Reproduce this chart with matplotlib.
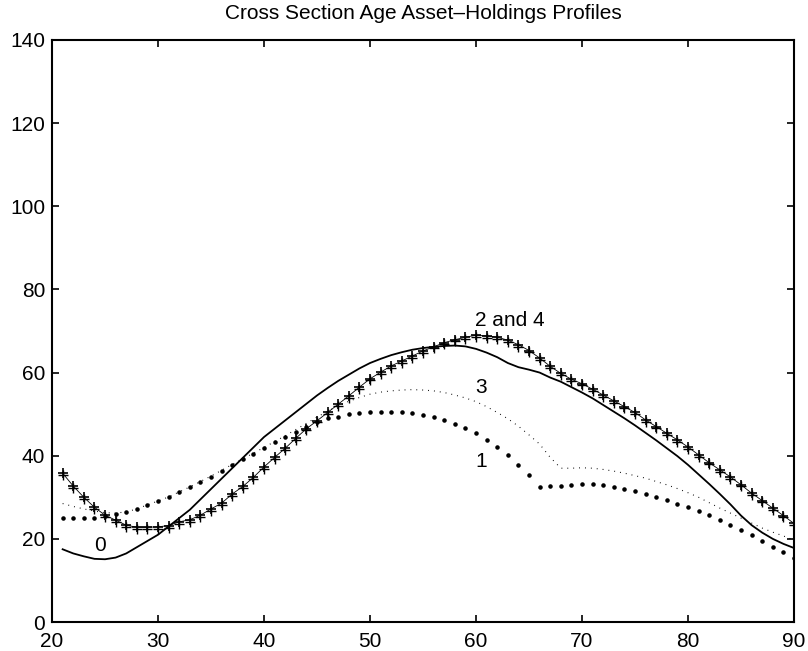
import matplotlib
matplotlib.use('Agg')
import matplotlib.pyplot as plt
import numpy as np

plt.rcParams['font.family'] = ['Liberation Sans', 'DejaVu Sans']

# ages 21..90
age = list(range(21, 91))

# profile 0 (solid line)
p0 = [17.5, 16.5, 15.8, 15.2, 15.1, 15.5, 16.5, 18.0, 19.5, 21.0,
      23.0, 25.0, 27.0, 29.5, 32.0, 34.5, 37.0, 39.5, 42.0, 44.5,
      46.5, 48.5, 50.5, 52.5, 54.5, 56.3, 58.0, 59.5, 61.0, 62.3,
      63.3, 64.2, 64.9, 65.5, 65.9, 66.2, 66.4, 66.5, 66.3, 65.7,
      64.8, 63.7, 62.3, 61.3, 60.7, 60.0, 58.8, 57.8, 56.5, 55.2,
      53.8, 52.2, 50.6, 49.0, 47.3, 45.5, 43.7, 41.8, 39.9, 37.8,
      35.5, 33.2, 30.8, 28.3, 25.6, 23.3, 21.5, 20.0, 18.8, 17.8]

# profile 1 (large dots)
p1 = [25.0, 25.0, 25.0, 25.0, 25.4, 25.9, 26.5, 27.2, 28.2, 29.1,
      30.1, 31.3, 32.5, 33.7, 35.0, 36.4, 37.8, 39.2, 40.5, 41.8,
      43.2, 44.5, 45.8, 47.0, 48.2, 49.0, 49.4, 50.0, 50.2, 50.5,
      50.6, 50.6, 50.5, 50.2, 49.8, 49.3, 48.6, 47.6, 46.6, 45.4,
      43.8, 42.2, 40.2, 37.8, 35.3, 32.4, 32.6, 32.8, 33.0, 33.1,
      33.1, 32.9, 32.5, 32.1, 31.4, 30.8, 30.1, 29.3, 28.5, 27.7,
      26.6, 25.7, 24.5, 23.3, 22.1, 20.9, 19.4, 18.1, 16.9, 15.4]

# profile 2 (+ markers)
p2 = [35.8, 32.7, 30.0, 27.6, 25.7, 24.5, 23.3, 22.8, 22.8, 22.9,
      23.2, 24.1, 24.6, 25.7, 27.2, 28.6, 30.8, 32.6, 34.8, 37.3,
      39.6, 41.8, 44.2, 46.5, 48.4, 50.4, 52.4, 54.4, 56.5, 58.5,
      60.1, 61.6, 62.8, 64.0, 65.2, 66.2, 67.2, 67.9, 68.5, 69.0,
      68.8, 68.5, 67.8, 66.7, 65.3, 63.5, 61.5, 59.8, 58.4, 57.3,
      56.0, 54.6, 53.2, 51.8, 50.4, 48.6, 47.0, 45.4, 43.8, 42.1,
      40.2, 38.3, 36.6, 34.9, 33.0, 31.0, 29.2, 27.4, 25.6, 23.7]

# profile 4 (almost on top of profile 2)
p4 = [35.4, 32.3, 29.6, 27.1, 25.2, 24.0, 22.8, 22.3, 22.3, 22.4,
      22.7, 23.6, 24.1, 25.2, 26.8, 28.2, 30.4, 32.2, 34.4, 36.9,
      39.2, 41.4, 43.8, 46.1, 48.0, 50.0, 52.0, 54.0, 56.1, 58.1,
      59.7, 61.2, 62.4, 63.6, 64.8, 65.8, 66.8, 67.5, 68.1, 68.5,
      68.3, 68.0, 67.3, 66.2, 64.9, 63.1, 61.1, 59.4, 58.0, 56.9,
      55.6, 54.2, 52.8, 51.4, 50.0, 48.2, 46.6, 45.0, 43.4, 41.7,
      39.8, 37.9, 36.2, 34.5, 32.6, 30.6, 28.8, 27.0, 25.2, 23.3]

# profile 3 (fine dotted line)
p3 = [28.5, 27.8, 27.2, 26.7, 26.3, 26.2, 26.5, 27.2, 28.2, 29.1,
      30.1, 31.3, 32.5, 33.8, 35.1, 36.5, 37.9, 39.3, 40.6, 42.0,
      43.4, 44.8, 46.3, 47.8, 49.3, 50.7, 52.0, 53.1, 54.0, 54.8,
      55.3, 55.6, 55.8, 55.9, 55.8, 55.6, 55.2, 54.6, 53.9, 53.0,
      51.8, 50.4, 48.9, 47.1, 45.0, 42.8, 39.6, 37.0, 37.0, 37.1,
      37.0, 36.7, 36.3, 35.8, 35.2, 34.6, 33.8, 33.0, 32.1, 31.1,
      30.0, 28.7, 27.4, 26.2, 25.0, 23.8, 22.6, 21.6, 20.7, 19.7]

fig = plt.figure(figsize=(8.08, 6.51), dpi=100)
ax = fig.add_axes([0.0644, 0.0445, 0.9183, 0.8941])

ax.plot(age, p0, '-', color='k', linewidth=1.3)
ax.plot(age, p3, ':', color='k', linewidth=0.8, dashes=(0.8, 4.5))
ax.plot(age, p1, '.', color='k', markersize=4.5, linestyle='none')
ax.plot(age, p2, '-+', color='k', linewidth=0.6, markersize=7.5, markeredgewidth=1.2)
ax.plot(age, p4, '+', color='k', markersize=6.5, markeredgewidth=1.0)

# curve labels
ax.text(24.5, 18.4, '0', fontsize=15, ha='center', va='center')
ax.text(60.5, 38.6, '1', fontsize=15, ha='center', va='center')
ax.text(60.5, 56.5, '3', fontsize=15, ha='center', va='center')
ax.text(59.9, 72.6, '2 and 4', fontsize=15, ha='left', va='center')

ax.set_xlim(20, 90)
ax.set_ylim(0, 140)
ax.set_xticks(range(20, 91, 10))
ax.set_yticks(range(0, 141, 20))
ax.tick_params(direction='in', top=True, right=True, length=5, width=1.2,
               labelsize=15, colors='k')
ax.tick_params(axis='x', pad=7)
ax.tick_params(axis='y', pad=5)
for s in ax.spines.values():
    s.set_linewidth(1.5)
ax.set_title('Cross Section Age Asset\u2013Holdings Profiles', fontsize=15, pad=15)

fig.savefig('out.png', dpi=100)
